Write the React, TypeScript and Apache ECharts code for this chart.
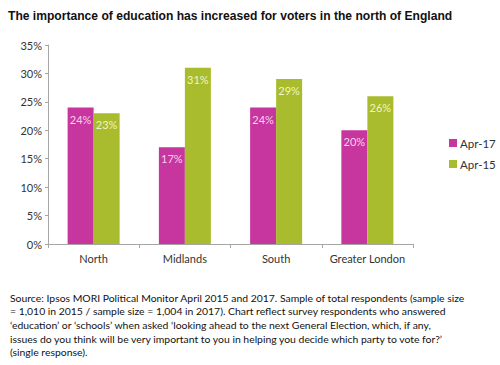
import React, { useEffect, useRef } from "react";
import * as echarts from "echarts";

const categories = ["North", "Midlands", "South", "Greater London"];
const apr17 = [24, 17, 24, 20];
const apr15 = [23, 31, 29, 26];
const seriesNames = ["Apr-17", "Apr-15"];
const title = "The importance of education has increased for voters in the north of England";
const footnoteLines = [
  "Source: Ipsos MORI Political Monitor April 2015 and 2017. Sample of total respondents (sample size",
  "= 1,010 in 2015 / sample size = 1,004 in 2017). Chart reflect survey respondents who answered",
  "\u2018education\u2019 or \u2018schools\u2019 when asked \u2018looking ahead to the next General Election, which, if any,",
  "issues do you think will be very important to you in helping you decide which party to vote for?\u2019",
  "(single response).",
];

export default function App() {
  const ref = useRef<HTMLDivElement>(null);
  useEffect(() => {
    if (!ref.current) return;
    const chart = echarts.init(ref.current, null, { renderer: "svg" });
    const labelFont = "Lato, 'Open Sans', sans-serif";
    chart.setOption({
      animation: false,
      backgroundColor: "#ffffff",
      textStyle: { fontFamily: labelFont },
      title: {
        text: title,
        left: 3,
        top: 5,
        textStyle: {
          fontFamily: "'Liberation Sans', Arial, sans-serif",
          fontWeight: "bold",
          fontSize: 12.1,
          color: "#111111",
        },
      },
      legend: {
        orient: "vertical",
        left: 444,
        top: 132,
        itemWidth: 8,
        itemHeight: 8,
        itemGap: 9,
        icon: "rect",
        textStyle: { fontFamily: labelFont, fontSize: 11.5, color: "#333333", padding: [0, 0, 0, -2] },
        data: seriesNames,
      },
      grid: { left: 48, right: 87, top: 45, bottom: 121, containLabel: false },
      xAxis: {
        type: "category",
        data: categories,
        axisLine: { lineStyle: { color: "#a6a6a6" } },
        axisTick: { show: true, length: 4, lineStyle: { color: "#a6a6a6" } },
        axisLabel: { interval: 0, fontFamily: labelFont, fontSize: 11, color: "#333333", margin: 9 },
      },
      yAxis: {
        type: "value",
        min: 0,
        max: 35,
        interval: 5,
        splitLine: { show: false },
        axisLine: { show: true, lineStyle: { color: "#a6a6a6" } },
        axisTick: { show: true, length: 3, lineStyle: { color: "#a6a6a6" } },
        axisLabel: { formatter: "{value}%", fontFamily: labelFont, fontSize: 11, color: "#333333", margin: 6 },
      },
      series: [
        {
          name: seriesNames[0],
          type: "bar",
          data: apr17,
          barGap: "0%",
          barCategoryGap: "43%",
          itemStyle: { color: "#c7359f" },
          label: {
            show: true,
            position: "insideTop",
            distance: 6,
            formatter: "{c}%",
            color: "#f6d3ea",
            fontFamily: labelFont,
            fontSize: 11,
          },
        },
        {
          name: seriesNames[1],
          type: "bar",
          data: apr15,
          barGap: "0%",
          barCategoryGap: "43%",
          itemStyle: { color: "#a9bc2d" },
          label: {
            show: true,
            position: "insideTop",
            distance: 6,
            formatter: "{c}%",
            color: "#f3f3c4",
            fontFamily: labelFont,
            fontSize: 11,
          },
        },
      ],
      graphic: [
        {
          type: "text",
          left: 10,
          top: 291,
          style: {
            text: footnoteLines.join("\n"),
            fontFamily: labelFont,
            fontSize: 10.4,
            lineHeight: 13.6,
            fill: "#111111",
          },
        },
      ],
    });
    return () => chart.dispose();
  }, []);
  return (
    <div
      ref={ref}
      style={{ position: "absolute", left: 0, top: 0, width: 500, height: 365 }}
    />
  );
}
